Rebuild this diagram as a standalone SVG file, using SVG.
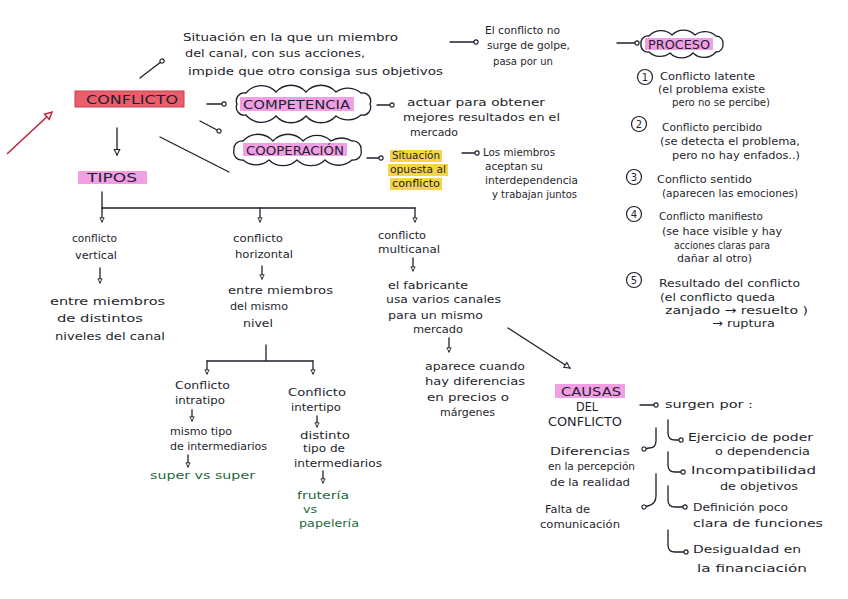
<svg xmlns="http://www.w3.org/2000/svg" width="848" height="599" viewBox="0 0 848 599">
<defs>
<style>
.t{font-family:"DejaVu Sans","Liberation Sans",sans-serif;font-size:11px;fill:#1f1f2e}
.c{font-size:12.5px}
.g{fill:#1f6a3c}
.ln{stroke:#1f1f2e;stroke-width:1.3;fill:none;stroke-linecap:round}
.red{stroke:#b8283a;stroke-width:1.6;fill:none}
.cloud{fill:#fff;stroke:#1f1f2e;stroke-width:1.3}
.hl{fill:#f29ee4}
.yl{fill:#f6d545}
.num{font-family:"DejaVu Sans",sans-serif;font-size:10px;fill:#1f1f2e;text-anchor:middle}
.nc{fill:none;stroke:#1f1f2e;stroke-width:1.2}
</style>
<marker id="dot" viewBox="0 0 8 8" refX="4" refY="4" markerWidth="7" markerHeight="7" markerUnits="userSpaceOnUse" orient="auto"><circle cx="4" cy="4" r="2.4" fill="#fff" stroke="#1f1f2e" stroke-width="1.3"/></marker>
<marker id="tri" viewBox="0 0 10 10" refX="8.5" refY="5" markerWidth="8" markerHeight="8" markerUnits="userSpaceOnUse" orient="auto"><path d="M1.5,1.5 L8.5,5 L1.5,8.5 Z" fill="#fff" stroke="#1f1f2e" stroke-width="1.3"/></marker>
<marker id="tris" viewBox="0 0 10 10" refX="8.5" refY="5" markerWidth="6" markerHeight="6" markerUnits="userSpaceOnUse" orient="auto"><path d="M1.5,1.5 L8.5,5 L1.5,8.5 Z" fill="#fff" stroke="#1f1f2e" stroke-width="1.5"/></marker>
<marker id="trired" viewBox="0 0 10 10" refX="8.5" refY="5" markerWidth="10" markerHeight="10" markerUnits="userSpaceOnUse" orient="auto"><path d="M1.5,1.5 L8.5,5 L1.5,8.5 Z" fill="#fff" stroke="#b8283a" stroke-width="1.4"/></marker>
</defs>
<rect width="848" height="599" fill="#ffffff"/>

<g id="connectors">
<line class="red" x1="7" y1="154" x2="52" y2="112" marker-end="url(#trired)"/>
<line class="ln" x1="140" y1="78" x2="162" y2="61" marker-end="url(#dot)"/>
<line class="ln" x1="207" y1="104" x2="224" y2="104" marker-end="url(#dot)"/>
<line class="ln" x1="200" y1="121" x2="219" y2="131" marker-end="url(#dot)"/>
<line class="ln" x1="160" y1="137" x2="229" y2="172"/>
<line class="ln" x1="117" y1="128" x2="117" y2="155" marker-end="url(#tri)"/>
<line class="ln" x1="377" y1="105" x2="392" y2="105" marker-end="url(#dot)"/>
<line class="ln" x1="367" y1="158" x2="381" y2="158" marker-end="url(#dot)"/>
<line class="ln" x1="462" y1="153" x2="477" y2="153" marker-end="url(#dot)"/>
<line class="ln" x1="450" y1="42" x2="476" y2="42" marker-end="url(#dot)"/>
<line class="ln" x1="617" y1="43" x2="637" y2="43" marker-end="url(#dot)"/>
<path class="ln" d="M102,192 L102,208 L415,208"/>
<line class="ln" x1="102" y1="208" x2="102" y2="222" marker-end="url(#tris)"/>
<line class="ln" x1="260" y1="208" x2="260" y2="222" marker-end="url(#tris)"/>
<line class="ln" x1="415" y1="208" x2="415" y2="222" marker-end="url(#tris)"/>
<line class="ln" x1="100" y1="268" x2="100" y2="283" marker-end="url(#tris)"/>
<line class="ln" x1="262" y1="266" x2="262" y2="279" marker-end="url(#tris)"/>
<line class="ln" x1="413" y1="258" x2="413" y2="271" marker-end="url(#tris)"/>
<line class="ln" x1="449" y1="338" x2="449" y2="352" marker-end="url(#tris)"/>
<line class="ln" x1="508" y1="328" x2="570" y2="368" marker-end="url(#tri)"/>
<path class="ln" d="M266,345 L266,361 M207,361 L313,361"/>
<line class="ln" x1="207" y1="361" x2="207" y2="374" marker-end="url(#tris)"/>
<line class="ln" x1="313" y1="361" x2="313" y2="374" marker-end="url(#tris)"/>
<line class="ln" x1="192" y1="410" x2="192" y2="421" marker-end="url(#tris)"/>
<line class="ln" x1="188" y1="455" x2="188" y2="467" marker-end="url(#tris)"/>
<line class="ln" x1="317" y1="416" x2="317" y2="427" marker-end="url(#tris)"/>
<line class="ln" x1="323" y1="471" x2="323" y2="483" marker-end="url(#tris)"/>
<line class="ln" x1="640" y1="405" x2="656" y2="405" marker-end="url(#dot)"/>
<path class="ln" d="M668,420 L668,433 Q668,440 675,440 L681,440" marker-end="url(#dot)"/>
<path class="ln" d="M668,452 L668,465 Q668,472 675,472 L683,472" marker-end="url(#dot)"/>
<path class="ln" d="M668,486 L668,500 Q668,507 675,507 L685,507" marker-end="url(#dot)"/>
<path class="ln" d="M668,530 L668,545 Q668,552 675,552 L686,552" marker-end="url(#dot)"/>
<path class="ln" d="M656,428 L656,441 Q656,448 649,448 L644,449" marker-end="url(#dot)"/>
<path class="ln" d="M656,474 L656,496 Q656,504 648,506 L644,507" marker-end="url(#dot)"/>
</g>

<g id="definicion">
<text class="t" x="183" y="41" textLength="215" lengthAdjust="spacingAndGlyphs">Situación en la que un miembro</text>
<text class="t" x="185" y="57" textLength="180" lengthAdjust="spacingAndGlyphs">del canal, con sus acciones,</text>
<text class="t" x="188" y="75" textLength="255" lengthAdjust="spacingAndGlyphs">impide que otro consiga sus objetivos</text>
</g>

<g id="conflicto">
<rect x="75" y="91" width="109" height="16" fill="#ea5d6b" stroke="#c8404f" stroke-width="1"/>
<text class="t c" x="86" y="104" textLength="92" lengthAdjust="spacingAndGlyphs">CONFLICTO</text>
</g>

<g id="tipos">
<rect x="78" y="171" width="69" height="13" class="hl"/>
<text class="t c" x="87" y="182" textLength="50" lengthAdjust="spacingAndGlyphs">TIPOS</text>
</g>

<g id="competencia">
<path class="cloud" d="M237,104 A8,8 0 0 1 246,93 A20,20 0 0 1 276,92 A20,20 0 0 1 306,92 A20,20 0 0 1 336,92 A20,20 0 0 1 361,93 A8,8 0 0 1 370,104 A8,8 0 0 1 361,115 A20,20 0 0 1 336,116 A20,20 0 0 1 306,116 A20,20 0 0 1 276,116 A20,20 0 0 1 246,115 A8,8 0 0 1 237,104 Z"/>
<rect x="240" y="97" width="114" height="14" class="hl"/>
<text class="t c" x="243" y="109" textLength="107" lengthAdjust="spacingAndGlyphs">COMPETENCIA</text>
</g>

<g id="competencia-def">
<text class="t" x="407" y="106" textLength="138" lengthAdjust="spacingAndGlyphs">actuar para obtener</text>
<text class="t" x="403" y="121" textLength="157" lengthAdjust="spacingAndGlyphs">mejores resultados en el</text>
<text class="t" x="410" y="136" textLength="48" lengthAdjust="spacingAndGlyphs">mercado</text>
</g>

<g id="cooperacion">
<path class="cloud" d="M234,150 A8,8 0 0 1 243,141 A20,20 0 0 1 273,141 A20,20 0 0 1 303,141 A20,20 0 0 1 331,141 A20,20 0 0 1 352,141 A8,8 0 0 1 361,150 A8,8 0 0 1 352,160 A20,20 0 0 1 325,160 A20,20 0 0 1 297,160 A20,20 0 0 1 269,160 A20,20 0 0 1 243,160 A8,8 0 0 1 234,150 Z"/>
<rect x="243" y="143" width="104" height="13" class="hl"/>
<text class="t c" x="246" y="155" textLength="98" lengthAdjust="spacingAndGlyphs">COOPERACIÓN</text>
</g>

<g id="opuesta">
<rect x="390" y="150" width="52" height="12" class="yl"/>
<rect x="388" y="164" width="60" height="12" class="yl"/>
<rect x="390" y="178" width="52" height="12" class="yl"/>
<text class="t" x="392" y="159" textLength="48" lengthAdjust="spacingAndGlyphs">Situación</text>
<text class="t" x="390" y="173" textLength="56" lengthAdjust="spacingAndGlyphs">opuesta al</text>
<text class="t" x="392" y="187" textLength="48" lengthAdjust="spacingAndGlyphs">conflicto</text>
</g>

<g id="miembros">
<text class="t" x="483" y="156" textLength="72" lengthAdjust="spacingAndGlyphs">Los miembros</text>
<text class="t" x="485" y="170" textLength="58" lengthAdjust="spacingAndGlyphs">aceptan su</text>
<text class="t" x="485" y="184" textLength="93" lengthAdjust="spacingAndGlyphs">interdependencia</text>
<text class="t" x="492" y="198" textLength="85" lengthAdjust="spacingAndGlyphs">y trabajan juntos</text>
</g>

<g id="golpe">
<text class="t" x="485" y="34" textLength="75" lengthAdjust="spacingAndGlyphs">El conflicto no</text>
<text class="t" x="487" y="49" textLength="83" lengthAdjust="spacingAndGlyphs">surge de golpe,</text>
<text class="t" x="493" y="65" textLength="60" lengthAdjust="spacingAndGlyphs">pasa por un</text>
</g>

<g id="proceso">
<path class="cloud" d="M641,44 A7,7 0 0 1 649,36 A16,16 0 0 1 672,35 A16,16 0 0 1 695,35 A16,16 0 0 1 716,36 A7,7 0 0 1 723,44 A7,7 0 0 1 716,52 A16,16 0 0 1 693,53 A16,16 0 0 1 670,53 A16,16 0 0 1 649,52 A7,7 0 0 1 641,44 Z"/>
<rect x="645" y="38" width="68" height="12" class="hl"/>
<text class="t c" x="648" y="49" textLength="62" lengthAdjust="spacingAndGlyphs">PROCESO</text>
</g>

<g id="fase1">
<circle class="nc" cx="645" cy="77" r="7.5"/><text class="num" x="645" y="81">1</text>
<text class="t" x="660" y="80" textLength="95" lengthAdjust="spacingAndGlyphs">Conflicto latente</text>
<text class="t" x="658" y="93" textLength="107" lengthAdjust="spacingAndGlyphs">(el problema existe</text>
<text class="t" x="672" y="106" textLength="98" lengthAdjust="spacingAndGlyphs">pero no se percibe)</text>
</g>
<g id="fase2">
<circle class="nc" cx="639" cy="124" r="7.5"/><text class="num" x="639" y="128">2</text>
<text class="t" x="662" y="131" textLength="100" lengthAdjust="spacingAndGlyphs">Conflicto percibido</text>
<text class="t" x="660" y="145" textLength="140" lengthAdjust="spacingAndGlyphs">(se detecta el problema,</text>
<text class="t" x="672" y="159" textLength="128" lengthAdjust="spacingAndGlyphs">pero no hay enfados..)</text>
</g>
<g id="fase3">
<circle class="nc" cx="634" cy="177" r="7.5"/><text class="num" x="634" y="181">3</text>
<text class="t" x="657" y="183" textLength="95" lengthAdjust="spacingAndGlyphs">Conflicto sentido</text>
<text class="t" x="662" y="197" textLength="136" lengthAdjust="spacingAndGlyphs">(aparecen las emociones)</text>
</g>
<g id="fase4">
<circle class="nc" cx="634" cy="214" r="7.5"/><text class="num" x="634" y="218">4</text>
<text class="t" x="659" y="220" textLength="104" lengthAdjust="spacingAndGlyphs">Conflicto manifiesto</text>
<text class="t" x="662" y="235" textLength="120" lengthAdjust="spacingAndGlyphs">(se hace visible y hay</text>
<text class="t" x="674" y="249" textLength="96" lengthAdjust="spacingAndGlyphs">acciones claras para</text>
<text class="t" x="677" y="262" textLength="75" lengthAdjust="spacingAndGlyphs">dañar al otro)</text>
</g>
<g id="fase5">
<circle class="nc" cx="634" cy="280" r="7.5"/><text class="num" x="634" y="284">5</text>
<text class="t" x="659" y="287" textLength="141" lengthAdjust="spacingAndGlyphs">Resultado del conflicto</text>
<text class="t" x="660" y="301" textLength="115" lengthAdjust="spacingAndGlyphs">(el conflicto queda</text>
<text class="t" x="665" y="314" textLength="143" lengthAdjust="spacingAndGlyphs">zanjado → resuelto )</text>
<text class="t" x="712" y="327" textLength="63" lengthAdjust="spacingAndGlyphs">→ ruptura</text>
</g>

<g id="vertical">
<text class="t" x="72" y="242" textLength="45" lengthAdjust="spacingAndGlyphs">conflicto</text>
<text class="t" x="75" y="259" textLength="42" lengthAdjust="spacingAndGlyphs">vertical</text>
<text class="t" x="50" y="305" textLength="115" lengthAdjust="spacingAndGlyphs">entre miembros</text>
<text class="t" x="57" y="322" textLength="86" lengthAdjust="spacingAndGlyphs">de distintos</text>
<text class="t" x="55" y="340" textLength="110" lengthAdjust="spacingAndGlyphs">niveles del canal</text>
</g>

<g id="horizontal">
<text class="t" x="233" y="242" textLength="50" lengthAdjust="spacingAndGlyphs">conflicto</text>
<text class="t" x="235" y="258" textLength="58" lengthAdjust="spacingAndGlyphs">horizontal</text>
<text class="t" x="228" y="294" textLength="105" lengthAdjust="spacingAndGlyphs">entre miembros</text>
<text class="t" x="230" y="310" textLength="58" lengthAdjust="spacingAndGlyphs">del mismo</text>
<text class="t" x="243" y="327" textLength="30" lengthAdjust="spacingAndGlyphs">nivel</text>
</g>

<g id="multicanal">
<text class="t" x="378" y="239" textLength="48" lengthAdjust="spacingAndGlyphs">conflicto</text>
<text class="t" x="378" y="253" textLength="62" lengthAdjust="spacingAndGlyphs">multicanal</text>
<text class="t" x="388" y="289" textLength="80" lengthAdjust="spacingAndGlyphs">el fabricante</text>
<text class="t" x="386" y="303" textLength="115" lengthAdjust="spacingAndGlyphs">usa varios canales</text>
<text class="t" x="388" y="319" textLength="95" lengthAdjust="spacingAndGlyphs">para un mismo</text>
<text class="t" x="413" y="333" textLength="50" lengthAdjust="spacingAndGlyphs">mercado</text>
<text class="t" x="425" y="370" textLength="100" lengthAdjust="spacingAndGlyphs">aparece cuando</text>
<text class="t" x="425" y="385" textLength="100" lengthAdjust="spacingAndGlyphs">hay diferencias</text>
<text class="t" x="427" y="401" textLength="82" lengthAdjust="spacingAndGlyphs">en precios o</text>
<text class="t" x="440" y="416" textLength="55" lengthAdjust="spacingAndGlyphs">márgenes</text>
</g>

<g id="intratipo">
<text class="t" x="175" y="389" textLength="55" lengthAdjust="spacingAndGlyphs">Conflicto</text>
<text class="t" x="175" y="404" textLength="50" lengthAdjust="spacingAndGlyphs">intratipo</text>
<text class="t" x="170" y="435" textLength="62" lengthAdjust="spacingAndGlyphs">mismo tipo</text>
<text class="t" x="170" y="450" textLength="97" lengthAdjust="spacingAndGlyphs">de intermediarios</text>
<text class="t g" x="150" y="479" textLength="105" lengthAdjust="spacingAndGlyphs">super vs super</text>
</g>

<g id="intertipo">
<text class="t" x="288" y="396" textLength="58" lengthAdjust="spacingAndGlyphs">Conflicto</text>
<text class="t" x="291" y="411" textLength="50" lengthAdjust="spacingAndGlyphs">intertipo</text>
<text class="t" x="300" y="439" textLength="50" lengthAdjust="spacingAndGlyphs">distinto</text>
<text class="t" x="303" y="452" textLength="42" lengthAdjust="spacingAndGlyphs">tipo de</text>
<text class="t" x="294" y="467" textLength="88" lengthAdjust="spacingAndGlyphs">intermediarios</text>
<text class="t g" x="297" y="499" textLength="52" lengthAdjust="spacingAndGlyphs">frutería</text>
<text class="t g" x="303" y="513" textLength="14" lengthAdjust="spacingAndGlyphs">vs</text>
<text class="t g" x="299" y="527" textLength="60" lengthAdjust="spacingAndGlyphs">papelería</text>
</g>

<g id="causas">
<rect x="555" y="384" width="70" height="14" class="hl"/>
<text class="t c" x="561" y="396" textLength="60" lengthAdjust="spacingAndGlyphs">CAUSAS</text>
<text class="t c" x="576" y="411" textLength="22" lengthAdjust="spacingAndGlyphs">DEL</text>
<text class="t c" x="548" y="426" textLength="74" lengthAdjust="spacingAndGlyphs">CONFLICTO</text>
<text class="t" x="665" y="408" textLength="88" lengthAdjust="spacingAndGlyphs">surgen por :</text>
</g>

<g id="causa-poder">
<text class="t" x="688" y="441" textLength="125" lengthAdjust="spacingAndGlyphs">Ejercicio de poder</text>
<text class="t" x="715" y="455" textLength="95" lengthAdjust="spacingAndGlyphs">o dependencia</text>
</g>
<g id="causa-objetivos">
<text class="t" x="691" y="474" textLength="125" lengthAdjust="spacingAndGlyphs">Incompatibilidad</text>
<text class="t" x="720" y="490" textLength="78" lengthAdjust="spacingAndGlyphs">de objetivos</text>
</g>
<g id="causa-funciones">
<text class="t" x="693" y="511" textLength="95" lengthAdjust="spacingAndGlyphs">Definición poco</text>
<text class="t" x="693" y="527" textLength="130" lengthAdjust="spacingAndGlyphs">clara de funciones</text>
</g>
<g id="causa-financiacion">
<text class="t" x="693" y="553" textLength="108" lengthAdjust="spacingAndGlyphs">Desigualdad en</text>
<text class="t" x="697" y="572" textLength="110" lengthAdjust="spacingAndGlyphs">la financiación</text>
</g>
<g id="causa-percepcion">
<text class="t" x="550" y="455" textLength="80" lengthAdjust="spacingAndGlyphs">Diferencias</text>
<text class="t" x="548" y="470" textLength="87" lengthAdjust="spacingAndGlyphs">en la percepción</text>
<text class="t" x="550" y="486" textLength="80" lengthAdjust="spacingAndGlyphs">de la realidad</text>
</g>
<g id="causa-comunicacion">
<text class="t" x="545" y="513" textLength="45" lengthAdjust="spacingAndGlyphs">Falta de</text>
<text class="t" x="540" y="528" textLength="80" lengthAdjust="spacingAndGlyphs">comunicación</text>
</g>
</svg>
